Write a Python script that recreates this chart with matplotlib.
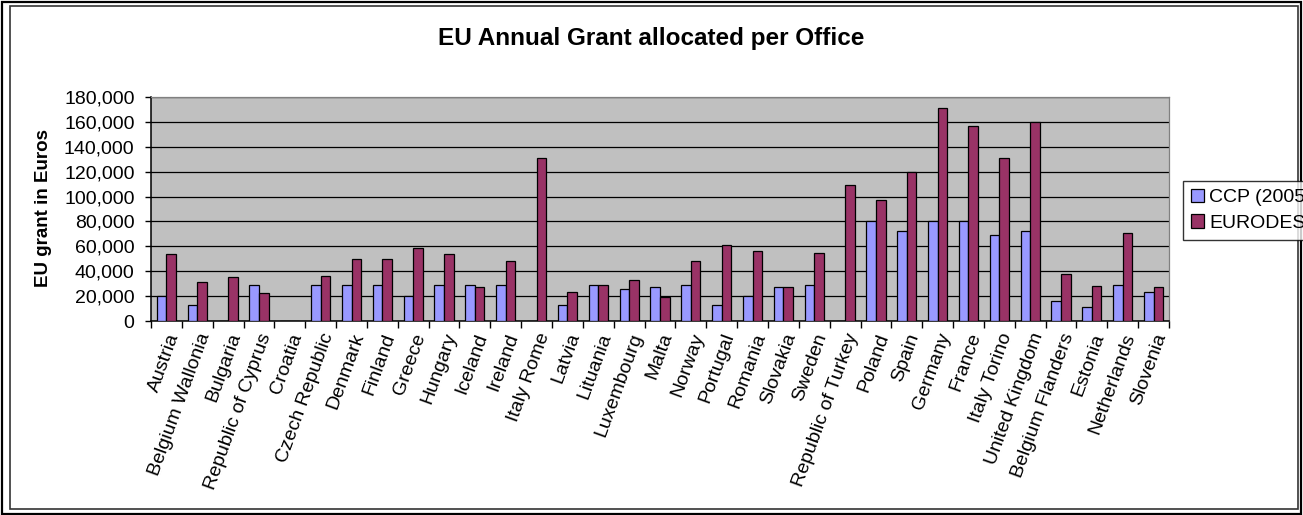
import matplotlib
matplotlib.use("Agg")
import matplotlib.pyplot as plt
import numpy as np
from matplotlib.patches import Rectangle
from matplotlib.ticker import FuncFormatter

plt.rcParams['font.family'] = ['Liberation Sans', 'DejaVu Sans']

offices = [
    'Austria', 'Belgium Wallonia', 'Bulgaria', 'Republic of Cyprus', 'Croatia',
    'Czech Republic', 'Denmark', 'Finland', 'Greece', 'Hungary', 'Iceland',
    'Ireland', 'Italy Rome', 'Latvia', 'Lituania', 'Luxembourg', 'Malta',
    'Norway', 'Portugal', 'Romania', 'Slovakia', 'Sweden', 'Republic of Turkey',
    'Poland', 'Spain', 'Germany', 'France', 'Italy Torino', 'United Kingdom',
    'Belgium Flanders', 'Estonia', 'Netherlands', 'Slovenia',
]
ccp = [20000, 13000, 0, 29000, 0, 29000, 29000, 29000, 20000, 29000, 29000,
       29000, 0, 13000, 29000, 25500, 27000, 29000, 13000, 20000, 27000,
       29000, 0, 80000, 72000, 80000, 80000, 69000, 72000, 16000, 11000,
       29000, 23500]
eurodesk = [54000, 31000, 35000, 22500, 0, 36000, 50000, 50000, 59000, 54000,
            27500, 48500, 131000, 23500, 29000, 33000, 19500, 48500, 61000,
            56000, 27000, 55000, 109000, 97000, 120000, 171000, 157000, 131000,
            160000, 38000, 28000, 71000, 27000]

W, H = 1303, 515
fig = plt.figure(figsize=(W / 100, H / 100), dpi=100)

# double frame around the chart
fig.patches.append(Rectangle((2 / W, 1 / H), 1299 / W, 512 / H, transform=fig.transFigure,
                             fill=False, edgecolor='black', linewidth=1.6))
fig.patches.append(Rectangle((10 / W, 6 / H), 1288 / W, 503 / H, transform=fig.transFigure,
                             fill=False, edgecolor='#333333', linewidth=1.2))

ax = fig.add_axes([151 / W, (H - 321) / H, 1018 / W, 224 / H])
ax.set_facecolor('#C0C0C0')

x = np.arange(len(offices))
bw = 0.31
b1 = ax.bar(x - bw / 2, ccp, bw, color='#9999FF', edgecolor='black', linewidth=0.9,
            label='CCP (2005)', zorder=3)
b2 = ax.bar(x + bw / 2, eurodesk, bw, color='#993366', edgecolor='black', linewidth=0.9,
            label='EURODESK', zorder=3)

ax.set_xlim(-0.5, len(offices) - 0.5)
ax.set_ylim(0, 180000)
ax.set_yticks(np.arange(0, 180001, 20000))
ax.yaxis.set_major_formatter(FuncFormatter(lambda v, p: f'{int(v):,}'))
ax.grid(axis='y', color='black', linewidth=0.9, zorder=1)

ax.set_xticks(x)
ax.set_xticklabels(offices, rotation=70, ha='right', va='top', rotation_mode='anchor')
ax.set_xticks(np.arange(len(offices) + 1) - 0.5, minor=True)
ax.tick_params(axis='x', which='major', length=0, pad=7, labelsize=14)
ax.tick_params(axis='x', which='minor', length=5, width=1)
ax.tick_params(axis='y', length=4.3, width=1, labelsize=14, pad=7.5)

for side in ['left', 'bottom']:
    ax.spines[side].set_color('black')
    ax.spines[side].set_linewidth(1.1)
for side in ['top', 'right']:
    ax.spines[side].set_color('#808080')
    ax.spines[side].set_linewidth(0.9)

fig.text(44 / W, 1 - 208 / H, 'EU grant in Euros', rotation=90, ha='center', va='center',
         fontsize=13.5, fontweight='bold')

fig.text(0.5, 1 - 38 / H, 'EU Annual Grant allocated per Office', ha='center', va='center',
         fontsize=17.5, fontweight='bold')

# the legend runs past the right edge of the chart area
leg = fig.legend(handles=[b1, b2], loc='upper left', bbox_to_anchor=(1183 / W, 1 - 181 / H),
                 frameon=True, fancybox=False, edgecolor='black', fontsize=14,
                 handlelength=0.7, handleheight=0.7, handletextpad=0.25,
                 borderpad=0.4, labelspacing=0.4, borderaxespad=0)
leg.get_frame().set_linewidth(1.0)

fig.savefig('out.png', dpi=100)
